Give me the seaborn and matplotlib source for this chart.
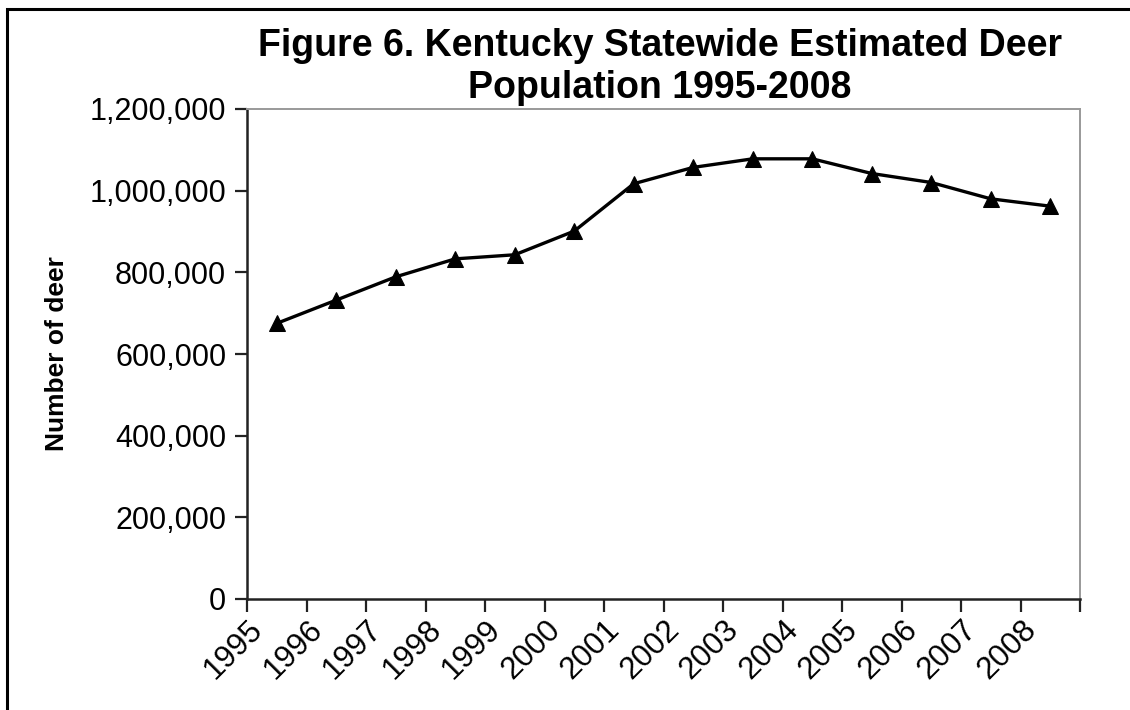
import matplotlib
matplotlib.use("Agg")
import matplotlib.pyplot as plt
import matplotlib.ticker as mticker
import matplotlib.transforms as mtransforms
from matplotlib.patches import Rectangle
import seaborn as sns
import pandas as pd

# Statewide deer population estimates
years = [1995, 1996, 1997, 1998, 1999, 2000, 2001,
         2002, 2003, 2004, 2005, 2006, 2007, 2008]
deer = [675000, 732000, 789000, 833000, 843000, 901000, 1017000,
        1057000, 1078000, 1078000, 1042000, 1020000, 980000, 962000]
y_ticks = [0, 200000, 400000, 600000, 800000, 1000000, 1200000]

title = "Figure 6. Kentucky Statewide Estimated Deer\nPopulation 1995-2008"
y_label = "Number of deer"

df = pd.DataFrame({"year": years, "deer": deer})

sns.set_theme(style="white")
plt.rcParams["font.family"] = ["Liberation Sans", "DejaVu Sans"]
plt.rcParams["text.color"] = "black"
plt.rcParams["axes.labelcolor"] = "black"
plt.rcParams["xtick.labelcolor"] = "black"
plt.rcParams["ytick.labelcolor"] = "black"

fig = plt.figure(figsize=(11.3, 7.1), dpi=100)
ax = fig.add_axes([247 / 1130, 1 - 599 / 710, (1080 - 247) / 1130, (599 - 109) / 710])

sns.lineplot(data=df, x="year", y="deer", ax=ax, color="black", linewidth=2.4,
             marker="^", markersize=11, markeredgecolor="black",
             markerfacecolor="black")

# Category-style x axis: tick marks between years, labels centred on years
ax.set_xlim(years[0] - 0.5, years[-1] + 0.5)
ax.xaxis.set_major_locator(mticker.FixedLocator([y - 0.5 for y in years] + [years[-1] + 0.5]))
ax.xaxis.set_major_formatter(mticker.NullFormatter())
ax.xaxis.set_minor_locator(mticker.FixedLocator(years))
ax.xaxis.set_minor_formatter(mticker.FixedFormatter([str(y) for y in years]))
ax.tick_params(axis="x", which="major", direction="out", length=9, width=1.6,
               color="#222222", bottom=True)
ax.tick_params(axis="x", which="minor", length=0, labelsize=22.5, pad=11, bottom=True,
               labelcolor="black")
for lbl in ax.xaxis.get_minorticklabels():
    lbl.set_rotation(45)
    lbl.set_ha("right")
    lbl.set_va("top")
    lbl.set_transform(lbl.get_transform() +
                      mtransforms.ScaledTranslation(-8 / 100, 0, fig.dpi_scale_trans))

ax.set_ylim(0, 1200000)
ax.set_yticks(y_ticks)
ax.yaxis.set_major_formatter(mticker.FuncFormatter(lambda v, p: f"{int(v):,}"))
ax.tick_params(axis="y", direction="out", length=9, width=1.6, color="#222222",
               labelsize=22, pad=6, left=True, labelcolor="black")

ax.set_xlabel("")
ax.set_ylabel(y_label, fontsize=19, fontweight="bold", labelpad=15, color="black")

for side in ["left", "bottom"]:
    ax.spines[side].set_color("#222222")
    ax.spines[side].set_linewidth(1.8)
for side in ["top", "right"]:
    ax.spines[side].set_visible(True)
    ax.spines[side].set_color("#999999")
    ax.spines[side].set_linewidth(1.4)
ax.grid(False)

fig.text(660 / 1130, 1 - 67 / 710, title, ha="center", va="center",
         fontsize=27, fontweight="bold", linespacing=1.22, color="black")

# Outer chart border
fig.patches.append(Rectangle((7 / 1130, -0.05), 1.2, 1 - 9 / 710 + 0.05,
                             transform=fig.transFigure, fill=False,
                             edgecolor="black", linewidth=2.2, zorder=10))

fig.savefig("out.png", dpi=100, facecolor="white")
